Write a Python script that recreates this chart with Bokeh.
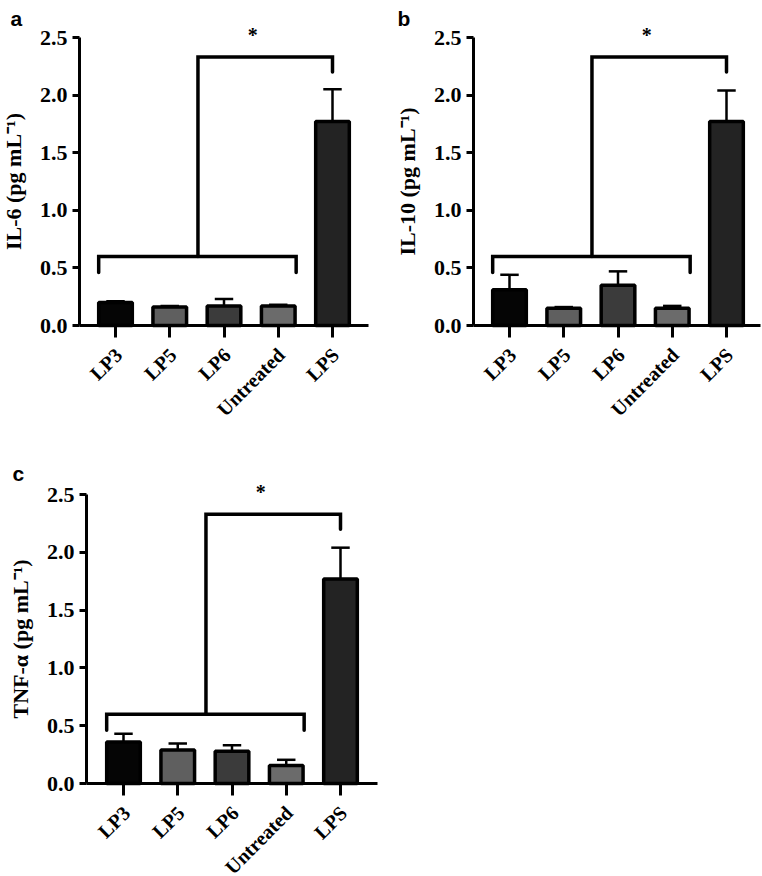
import math
from bokeh.plotting import figure
from bokeh.models import Range1d, FixedTicker, PrintfTickFormatter
from bokeh.layouts import row, column
from bokeh.core.properties import value
from bokeh.embed import file_html
from bokeh.resources import INLINE

# ---------------- data ----------------
categories = ["LP3", "LP5", "LP6", "Untreated", "LPS"]
bar_colors = ["#050505", "#5f5f5f", "#3b3b3b", "#6b6b6b", "#232323"]

il6_mean = [0.20, 0.16, 0.17, 0.17, 1.77]
il6_upper = [0.21, 0.17, 0.23, 0.18, 2.05]

il10_mean = [0.31, 0.15, 0.35, 0.15, 1.77]
il10_upper = [0.44, 0.16, 0.47, 0.17, 2.04]

tnf_mean = [0.36, 0.29, 0.28, 0.155, 1.77]
tnf_upper = [0.43, 0.345, 0.33, 0.205, 2.04]

y_ticks = [0.0, 0.5, 1.0, 1.5, 2.0, 2.5]

# significance bracket (group LP3..Untreated vs LPS)
bracket_low = 0.60
bracket_low_drop = 0.46
bracket_high = 2.33
bracket_high_drop = 2.20
bracket_left = -0.31
bracket_right = 3.33
bracket_mid = 1.52
bracket_target = 4
star_x = 2.53
star_y = 2.52

SERIF = "Liberation Serif"
SANS = "Liberation Sans"


def make_panel(letter, ylabel, means, uppers, W, H, x0px, y0px, sx, sy,
               yaxis_px, xaxis_end_px, letter_px):
    """x0px/y0px: pixel position (inside the figure) of category 0 / value 0."""
    idx = list(range(len(categories)))
    to_x = lambda px: (px - x0px) / sx
    to_y = lambda py: (y0px - py) / sy
    p = figure(width=W, height=H, output_backend="svg", toolbar_location=None,
               x_range=Range1d(to_x(0), to_x(W)), y_range=Range1d(to_y(H), to_y(0)),
               min_border_left=0, min_border_right=0, min_border_top=0,
               min_border_bottom=0)
    p.outline_line_color = None
    p.grid.visible = False
    p.background_fill_color = "white"

    # error bars (upper only)
    p.segment(x0=idx, y0=means, x1=idx, y1=uppers, line_color="black", line_width=2.5)
    p.segment(x0=[i - 0.17 for i in idx], y0=uppers, x1=[i + 0.17 for i in idx], y1=uppers,
              line_color="black", line_width=2.5)
    # bars
    p.vbar(x=idx, top=means, width=0.62, fill_color=bar_colors, line_color="black",
           line_width=3.5)

    # bracket
    p.line(x=[bracket_left, bracket_left, bracket_right, bracket_right],
           y=[bracket_low_drop, bracket_low, bracket_low, bracket_low_drop],
           line_color="black", line_width=3.5, line_join="miter", line_cap="round")
    p.line(x=[bracket_mid, bracket_mid, bracket_target, bracket_target],
           y=[bracket_low, bracket_high, bracket_high, bracket_high_drop],
           line_color="black", line_width=3.5, line_join="miter", line_cap="round")
    p.text(x=[star_x], y=[star_y], text=["*"], text_align="center", text_baseline="middle",
           text_font=value(SERIF), text_font_style="bold", text_font_size="20px",
           text_color="black")

    # category labels (rotated 45 degrees, ending just below each tick)
    p.text(x=idx, y=[0] * len(idx), text=categories, angle=math.pi / 4,
           x_offset=3, y_offset=26, text_align="right", text_baseline="middle",
           text_font=value(SERIF), text_font_style="bold", text_font_size="20px",
           text_color="black")

    # panel letter
    p.text(x=[to_x(letter_px[0])], y=[to_y(letter_px[1])], text=[letter],
           text_align="left", text_baseline="alphabetic", text_font=value(SANS),
           text_font_style="bold", text_font_size="21px", text_color="black")

    # axes
    xa = p.xaxis[0]
    xa.fixed_location = 0
    xa.bounds = (to_x(yaxis_px), to_x(xaxis_end_px))
    xa.ticker = FixedTicker(ticks=idx)
    xa.major_label_overrides = {i: "" for i in idx}
    xa.major_label_text_font_size = "1px"
    xa.minor_tick_line_color = None
    xa.major_tick_in = 0
    xa.major_tick_out = 12
    xa.major_tick_line_width = 3
    xa.major_tick_line_color = "black"
    xa.axis_line_width = 3
    xa.axis_line_color = "black"

    ya = p.yaxis[0]
    ya.fixed_location = to_x(yaxis_px)
    ya.bounds = (0, 2.5)
    ya.ticker = FixedTicker(ticks=y_ticks)
    ya.formatter = PrintfTickFormatter(format="%.1f")
    ya.major_label_text_font = SERIF
    ya.major_label_text_font_style = "bold"
    ya.major_label_text_font_size = "22px"
    ya.major_label_text_color = "black"
    ya.major_label_standoff = 5
    ya.minor_tick_line_color = None
    ya.major_tick_in = 0
    ya.major_tick_out = 7
    ya.major_tick_line_width = 3
    ya.major_tick_line_color = "black"
    ya.axis_line_width = 3
    ya.axis_line_color = "black"
    ya.axis_label = ylabel
    ya.axis_label_text_font = SERIF
    ya.axis_label_text_font_style = "bold"
    ya.axis_label_text_font_size = "22px"
    ya.axis_label_text_color = "black"
    ya.axis_label_standoff = 11
    return p


pa = make_panel("a", "IL-6 (pg mL⁻¹)", il6_mean, il6_upper, 380, 438,
                115, 325, 54.25, 115.2, 79, 368, (10, 18))
pb = make_panel("b", "IL-10 (pg mL⁻¹)", il10_mean, il10_upper, 382, 438,
                129, 325, 54.25, 115.2, 93, 380, (17, 18))
pc = make_panel("c", "TNF-α (pg mL⁻¹)", tnf_mean, tnf_upper, 380, 438,
                123, 345, 54.25, 115.6, 86, 377, (12, 35))

layout = column(row(pa, pb), pc)
open("out.html", "w").write(file_html(layout, INLINE))
